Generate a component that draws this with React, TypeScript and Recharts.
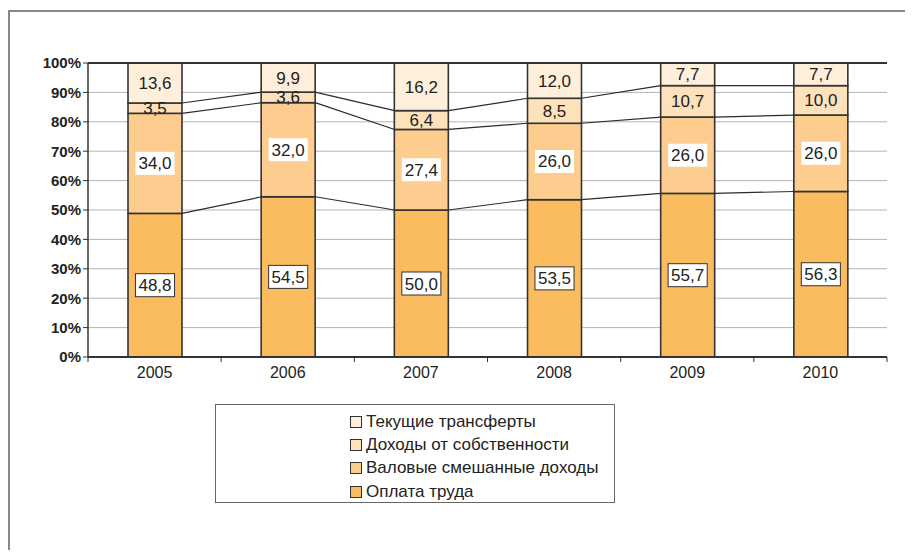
import React from 'react';
import {
  Bar,
  BarChart,
  CartesianGrid,
  LabelList,
  Legend,
  ReferenceLine,
  XAxis,
  YAxis,
} from 'recharts';

const years = ['2005', '2006', '2007', '2008', '2009', '2010'];
const wages = [48.8, 54.5, 50.0, 53.5, 55.7, 56.3];
const mixedIncome = [34.0, 32.0, 27.4, 26.0, 26.0, 26.0];
const propertyIncome = [3.5, 3.6, 6.4, 8.5, 10.7, 10.0];
const transfers = [13.6, 9.9, 16.2, 12.0, 7.7, 7.7];
const yTicks = [0, 0.1, 0.2, 0.3, 0.4, 0.5, 0.6, 0.7, 0.8, 0.9, 1];

const seriesKeys = ['wages', 'mixed', 'property', 'transfers'];
const seriesNames = [
  'Оплата труда',
  'Валовые смешанные доходы',
  'Доходы от собственности',
  'Текущие трансферты',
];
const seriesColors = ['#fbbb5f', '#fccd8e', '#fde1ba', '#feefda'];
const seriesValues = [wages, mixedIncome, propertyIncome, transfers];

const data = years.map((year, i) => ({
  year,
  wages: wages[i],
  mixed: mixedIncome[i],
  property: propertyIncome[i],
  transfers: transfers[i],
}));

const FONT = '"Liberation Sans", Arial, sans-serif';
const MARGIN = { top: 63, right: 26, left: 28, bottom: 171 };
const Y_AXIS_WIDTH = 60;
const PLOT_LEFT = MARGIN.left + Y_AXIS_WIDTH;

const sum = (arr: number[]) => arr.reduce((a, b) => a + b, 0);
const fmt = (v: number) => v.toFixed(1).replace('.', ',');

function makeShape(k: number) {
  return function BarShape(props: any) {
    const { x, y, width, height, index, fill } = props;
    const vals = seriesValues.map((s) => s[index]);
    const total = sum(vals);
    const frac = vals[k] / total;
    const below = sum(vals.slice(0, k)) / total;
    const plotH = height / frac;
    const bottom = y + height + below * plotH;
    let link = null;
    if (k < 3 && index < years.length - 1) {
      const next = seriesValues.map((s) => s[index + 1]);
      const nextCum = sum(next.slice(0, k + 1)) / sum(next);
      const step = (x + width / 2 - PLOT_LEFT) / (index + 0.5);
      link = (
        <line
          x1={x + width}
          y1={y}
          x2={x + step}
          y2={bottom - nextCum * plotH}
          stroke="#2b2b2b"
          strokeWidth={1.2}
        />
      );
    }
    return (
      <g>
        <rect x={x} y={y} width={width} height={height} fill={fill} stroke="#333" strokeWidth={1.6} />
        {link}
      </g>
    );
  };
}

function makeLabel(k: number) {
  return function BarLabel(props: any) {
    const vb = props.viewBox || {};
    const x = props.x ?? vb.x;
    const y = props.y ?? vb.y;
    const width = props.width ?? vb.width;
    const height = props.height ?? vb.height;
    const text = fmt(Number(props.value));
    const cx = x + width / 2;
    const cy = y + height / 2;
    const tw = (text.length - 1) * 0.556 * 17 + 0.278 * 17;
    return (
      <g>
        {k < 2 && (
          <rect
            x={cx - tw / 2 - 3}
            y={cy - 11.5}
            width={tw + 6}
            height={23}
            fill="#fff"
            stroke={k === 0 ? '#333' : 'none'}
            strokeWidth={1}
          />
        )}
        <text
          x={cx}
          y={cy + 6}
          textAnchor="middle"
          fontSize={17}
          fill="#222"
          fontFamily={FONT}
        >
          {text}
        </text>
      </g>
    );
  };
}

function YearTick(props: any) {
  const { x, y, payload, index } = props;
  const off = payload?.offset ?? 66.6;
  return (
    <g>
      <line x1={x - off} y1={y} x2={x - off} y2={y + 5} stroke="#333" strokeWidth={1} />
      {index === years.length - 1 && (
        <line x1={x + off} y1={y} x2={x + off} y2={y + 5} stroke="#333" strokeWidth={1} />
      )}
      <text x={x} y={y + 21} textAnchor="middle" fontSize={16} fill="#222" fontFamily={FONT}>
        {payload.value}
      </text>
    </g>
  );
}

function LegendBox({ payload }: any) {
  const list = payload || [];
  const items = [...seriesNames]
    .reverse()
    .map((name) => list.find((p: any) => p.value === name))
    .filter(Boolean);
  return (
    <div
      style={{
        width: 400,
        height: 99,
        boxSizing: 'border-box',
        border: '1px solid #666',
        background: '#fff',
        paddingLeft: 134,
        paddingTop: 5,
        fontFamily: FONT,
        fontSize: 17,
        color: '#222',
      }}
    >
      {items.map((item: any) => (
        <div key={item.value} style={{ height: 23.4, display: 'flex', alignItems: 'center' }}>
          <span
            style={{
              width: 12,
              height: 12,
              boxSizing: 'border-box',
              border: '1px solid #333',
              background: item.color,
              marginRight: 4,
              display: 'inline-block',
            }}
          />
          <span>{item.value}</span>
        </div>
      ))}
    </div>
  );
}

export default function App() {
  return (
    <div style={{ position: 'relative', margin: -8, width: 913, height: 558, background: '#fff', overflow: 'hidden' }}>
      <div
        style={{
          position: 'absolute',
          left: 8,
          top: 10,
          width: 1000,
          height: 600,
          borderTop: '2px solid #888',
          borderLeft: '2px solid #888',
        }}
      />
      <div style={{ position: 'absolute', left: 0, top: 0 }}>
        <BarChart width={913} height={558} data={data} margin={MARGIN} stackOffset="expand" barSize={54}>
          <CartesianGrid vertical={false} stroke="#b4b4b4" strokeWidth={1} />
          <XAxis
            dataKey="year"
            tickLine={false}
            tickSize={0}
            tickMargin={0}
            height={30}
            axisLine={{ stroke: '#333', strokeWidth: 2 }}
            tick={<YearTick />}
            interval={0}
          />
          <YAxis
            width={Y_AXIS_WIDTH}
            domain={[0, 1]}
            ticks={yTicks}
            tickFormatter={(v: number) => `${Math.round(v * 100)}%`}
            tick={{ fontSize: 15, fontWeight: 'bold', fill: '#222', fontFamily: FONT }}
            tickLine={{ stroke: '#333' }}
            tickSize={5}
            tickMargin={2}
            axisLine={{ stroke: '#333', strokeWidth: 1.5 }}
          />
          <YAxis
            yAxisId="right"
            orientation="right"
            width={0}
            domain={[0, 1]}
            tick={false}
            tickLine={false}
            axisLine={{ stroke: '#333', strokeWidth: 1.5 }}
          />
          <ReferenceLine y={1} stroke="#333" strokeWidth={2} />
          {seriesKeys.map((key, k) => (
            <Bar
              key={key}
              dataKey={key}
              name={seriesNames[k]}
              stackId="a"
              fill={seriesColors[k]}
              isAnimationActive={false}
              shape={makeShape(k)}
            >
              <LabelList dataKey={key} content={makeLabel(k)} />
            </Bar>
          ))}
          <Legend
            verticalAlign="middle"
            align="center"
            layout="horizontal"
            content={<LegendBox />}
            wrapperStyle={{ left: 215, top: 404, width: 400, height: 99 }}
          />
        </BarChart>
      </div>
    </div>
  );
}
